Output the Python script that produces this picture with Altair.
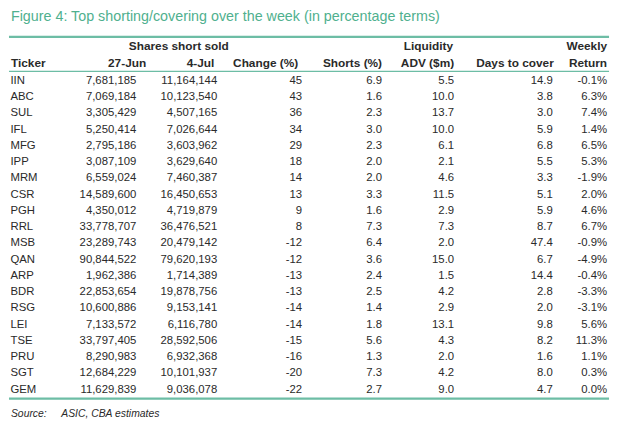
import altair as alt
import pandas as pd

tickers = ["IIN", "ABC", "SUL", "IFL", "MFG", "IPP", "MRM", "CSR", "PGH", "RRL",
           "MSB", "QAN", "ARP", "BDR", "RSG", "LEI", "TSE", "PRU", "SGT", "GEM"]
short_27jun = [7681185, 7069184, 3305429, 5250414, 2795186, 3087109, 6559024, 14589600,
               4350012, 33778707, 23289743, 90844522, 1962386, 22853654, 10600886,
               7133572, 33797405, 8290983, 12684229, 11629839]
short_4jul = [11164144, 10123540, 4507165, 7026644, 3603962, 3629640, 7460387, 16450653,
              4719879, 36476521, 20479142, 79620193, 1714389, 19878756, 9153141,
              6116780, 28592506, 6932368, 10101937, 9036078]
change_pct = [45, 43, 36, 34, 29, 18, 14, 13, 9, 8, -12, -12, -13, -13, -14, -14, -15, -16, -20, -22]
shorts_pct = [6.9, 1.6, 2.3, 3.0, 2.3, 2.0, 2.0, 3.3, 1.6, 7.3, 6.4, 3.6, 2.4, 2.5, 1.4, 1.8, 5.6, 1.3, 7.3, 2.7]
adv_m = [5.5, 10.0, 13.7, 10.0, 6.1, 2.1, 4.6, 11.5, 2.9, 7.3, 2.0, 15.0, 1.5, 4.2, 2.9, 13.1, 4.3, 2.0, 4.2, 9.0]
days_cover = [14.9, 3.8, 3.0, 5.9, 6.8, 5.5, 3.3, 5.1, 5.9, 8.7, 47.4, 6.7, 14.4, 2.8, 2.0, 9.8, 8.2, 1.6, 8.0, 4.7]
weekly_ret = [-0.1, 6.3, 7.4, 1.4, 6.5, 5.3, -1.9, 2.0, 4.6, 6.7, -0.9, -4.9, -0.4, -3.3, -3.1, 5.6, 11.3, 1.1, 0.3, 0.0]

title_text = "Figure 4: Top shorting/covering over the week (in percentage terms)"
source_label = "Source:"
source_text = "ASIC, CBA estimates"

df = pd.DataFrame({
    "ticker": tickers, "jun": short_27jun, "jul": short_4jul, "chg": change_pct,
    "shorts": shorts_pct, "adv": adv_m, "days": days_cover, "ret": weekly_ret,
})

FONT = "Liberation Sans"
TXT = "#2a2a2a"
GREEN = "#4fb08e"
RULE = "#6dbda5"

yenc = alt.Y("ticker:N", sort=tickers,
             scale=alt.Scale(type="point", domain=tickers, range=[71, 384], padding=0),
             axis=None)

def col(field, xpos, fmt=None, align="right", calc=None):
    c = alt.Chart(df)
    if calc is not None:
        c = c.transform_calculate(**calc)
    t = alt.Text(field) if fmt is None else alt.Text(field, format=fmt)
    return c.mark_text(align=align, baseline="middle", font=FONT, fontSize=11.5, color=TXT).encode(
        x=alt.value(xpos), y=yenc, text=t)

layers = [
    col("ticker:N", 2.5, align="left"),
    col("jun:Q", 130, ","),
    col("jul:Q", 212, ","),
    col("chg_txt:N", 298, calc={"chg_txt": "'' + datum.chg"}),
    col("shorts:Q", 379, ".1f"),
    col("adv:Q", 452, ".1f"),
    col("days:Q", 552, ".1f"),
    col("ret_txt:N", 607, calc={"ret_txt": "replace(format(datum.ret, '.1f'), '\u2212', '-') + '%'"}),
]

def label(text, x, y, align="right", size=12, weight="bold", color=TXT, style="normal"):
    return alt.Chart(pd.DataFrame({"t": [text]})).mark_text(
        align=align, baseline="middle", font=FONT, fontSize=size, fontWeight=weight,
        fontStyle=style, color=color).encode(x=alt.value(x), y=alt.value(y), text="t:N")

def hrule(y, w, color=RULE):
    return alt.Chart(pd.DataFrame({"a": [0]})).mark_rule(color=color, strokeWidth=w).encode(
        x=alt.value(1), x2=alt.value(609), y=alt.value(y))

layers += [
    label(title_text, 3, 6, align="left", size=14.5, weight="normal", color=GREEN),
    hrule(26.5, 2.2),
    label("Shares short sold", 173, 35.5, align="center"),
    label("Liquidity", 451, 35.5),
    label("Weekly", 607, 35.5),
    label("Ticker", 3, 53.5, align="left"),
    label("27-Jun", 140, 53.5),
    label("4-Jul", 209, 53.5),
    label("Change (%)", 294, 53.5),
    label("Shorts (%)", 379, 53.5),
    label("ADV ($m)", 452, 53.5),
    label("Days to cover", 553, 53.5),
    label("Return", 607, 53.5),
    hrule(61.5, 1.2),
    hrule(393, 2.2),
    label(source_label, 3, 409, align="left", size=10.5, weight="normal", style="italic"),
    label(source_text, 54, 409, align="left", size=10.5, weight="normal", style="italic"),
]

chart = alt.layer(*layers).properties(
    width=612, height=419,
    autosize=alt.AutoSizeParams(type="none"),
    padding={"left": 0, "right": 0, "top": 0, "bottom": 0},
).configure_view(stroke=None)

chart.save("out.html", embed_options={"renderer": "svg", "actions": False})
